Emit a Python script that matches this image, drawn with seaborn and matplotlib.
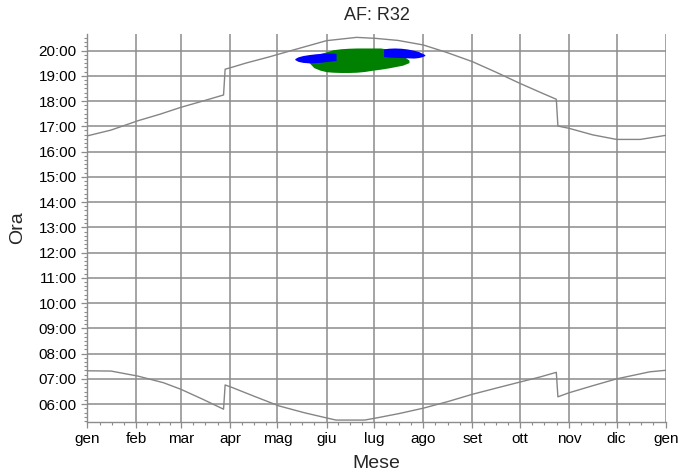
import numpy as np
import pandas as pd
import matplotlib
matplotlib.use("Agg")
import matplotlib.pyplot as plt
import seaborn as sns
from matplotlib.ticker import FixedLocator, FuncFormatter

# ---------------- data ----------------
title = "AF: R32"
x_label = "Mese"
y_label = "Ora"
month_labels = ["gen", "feb", "mar", "apr", "mag", "giu", "lug",
                "ago", "set", "ott", "nov", "dic", "gen"]
month_days = [0, 31, 59, 90, 120, 151, 181, 212, 243, 273, 304, 334, 365]
hour_ticks = list(range(6, 21))

# sunset (upper curve), hours as decimal
sunset_day = [0, 15, 32, 46, 59, 73, 86, 87, 91, 100, 115, 130, 151, 170, 182,
              196, 212, 227, 243, 258, 273, 286, 296, 297, 304, 319, 334,
              349, 365]
sunset_hour = [16.62, 16.85, 17.22, 17.48, 17.75, 18.00, 18.24, 19.26, 19.33,
               19.50, 19.75, 20.02, 20.39, 20.52, 20.48, 20.40, 20.22, 19.92,
               19.56, 19.14, 18.70, 18.34, 18.07, 17.01, 16.92, 16.66, 16.48,
               16.48, 16.64]

# sunrise (lower curve)
sunrise_day = [0, 15, 32, 48, 59, 73, 86, 87, 91, 105, 121, 137, 152, 157,
               175, 183, 197, 212, 228, 243, 259, 274, 286, 296, 297, 304,
               319, 334, 349, 355, 365]
sunrise_hour = [7.32, 7.31, 7.11, 6.85, 6.59, 6.19, 5.80, 6.76, 6.67, 6.32,
                5.93, 5.66, 5.44, 5.37, 5.37, 5.46, 5.63, 5.84, 6.11, 6.39,
                6.65, 6.89, 7.08, 7.26, 6.29, 6.45, 6.73, 7.00, 7.20, 7.28,
                7.34]

# green flicker region
green_day = [140, 143, 147, 151, 155, 160, 165, 170, 175, 180, 185, 190, 195,
             199, 203]
green_low = [19.52, 19.32, 19.22, 19.16, 19.14, 19.13, 19.13, 19.14, 19.17,
             19.22, 19.26, 19.31, 19.37, 19.42, 19.52]
green_high = [19.62, 19.78, 19.88, 19.95, 20.03, 20.07, 20.09, 20.10, 20.10,
              20.10, 20.10, 20.05, 19.95, 19.80, 19.62]

# blue flicker regions
blue_left_day = [131, 133, 136, 140, 144, 148, 152, 155, 157]
blue_left_low = [19.64, 19.57, 19.53, 19.51, 19.52, 19.54, 19.57, 19.59,
                 19.60]
blue_left_high = [19.68, 19.75, 19.80, 19.84, 19.87, 19.89, 19.90, 19.90,
                  19.88]

blue_right_day = [187, 190, 194, 198, 202, 206, 209, 211, 213]
blue_right_low = [19.76, 19.74, 19.73, 19.72, 19.71, 19.70, 19.72, 19.75,
                  19.80]
blue_right_high = [20.06, 20.09, 20.10, 20.09, 20.06, 20.01, 19.96, 19.90,
                   19.84]

# ---------------- style ----------------
sns.set_style("white")
plt.rcParams["font.family"] = ["Liberation Sans", "DejaVu Sans"]

GRID = "#8c8c8c"
LINE = "#858585"

fig = plt.figure(figsize=(6.96, 4.73), dpi=100)
ax = fig.add_axes([0.1254, 0.1078, 0.831, 0.8203])

# flicker regions
ax.fill_between(green_day, green_low, green_high, color="#008000",
                linewidth=0, zorder=3)
ax.fill_between(blue_left_day, blue_left_low, blue_left_high, color="#0000ff",
                linewidth=0, zorder=4)
ax.fill_between(blue_right_day, blue_right_low, blue_right_high,
                color="#0000ff", linewidth=0, zorder=4)

sunset_df = pd.DataFrame({"day": sunset_day, "hour": sunset_hour})
sunrise_df = pd.DataFrame({"day": sunrise_day, "hour": sunrise_hour})
sns.lineplot(data=sunset_df, x="day", y="hour", ax=ax, color=LINE,
             linewidth=1.0, sort=False, estimator=None, zorder=5)
sns.lineplot(data=sunrise_df, x="day", y="hour", ax=ax, color=LINE,
             linewidth=1.0, sort=False, estimator=None, zorder=5)

ax.set_xlim(0, 365)
ax.set_ylim(5.293, 20.653)

# ticks
ax.xaxis.set_major_locator(FixedLocator(month_days))
ax.set_xticklabels(month_labels)
minor_x = []
for a, b in zip(month_days[:-1], month_days[1:]):
    for k in (1, 2, 3):
        minor_x.append(a + (b - a) * k / 4)
ax.xaxis.set_minor_locator(FixedLocator(minor_x))

ax.yaxis.set_major_locator(FixedLocator(hour_ticks))
ax.yaxis.set_major_formatter(FuncFormatter(lambda v, p: f"{int(round(v)):02d}:00"))
minor_y = [h + m / 6 for h in range(5, 21) for m in range(1, 6)]
minor_y = [v for v in minor_y if 5.293 <= v <= 20.653]
ax.yaxis.set_minor_locator(FixedLocator(minor_y))

ax.grid(True, which="major", color=GRID, linewidth=1.1)
ax.grid(False, which="minor")
ax.set_axisbelow(True)

ax.tick_params(which="major", direction="out", length=4, width=0.9,
               color=GRID, labelsize=11, pad=3.5, labelcolor="black",
               bottom=True, left=True)
ax.tick_params(which="minor", direction="out", length=2.5, width=0.8,
               color=GRID, bottom=True, left=True)

for s in ("top", "right"):
    ax.spines[s].set_visible(False)
for s in ("left", "bottom"):
    ax.spines[s].set_color(GRID)
    ax.spines[s].set_linewidth(1.0)

ax.set_xlabel(x_label, fontsize=14, labelpad=6)
ax.set_ylabel(y_label, fontsize=14, labelpad=9)
fig.text(376.5 / 696, 1 - 16 / 473, title, fontsize=13, ha="center",
         va="center")

fig.savefig("out.png", dpi=100)
